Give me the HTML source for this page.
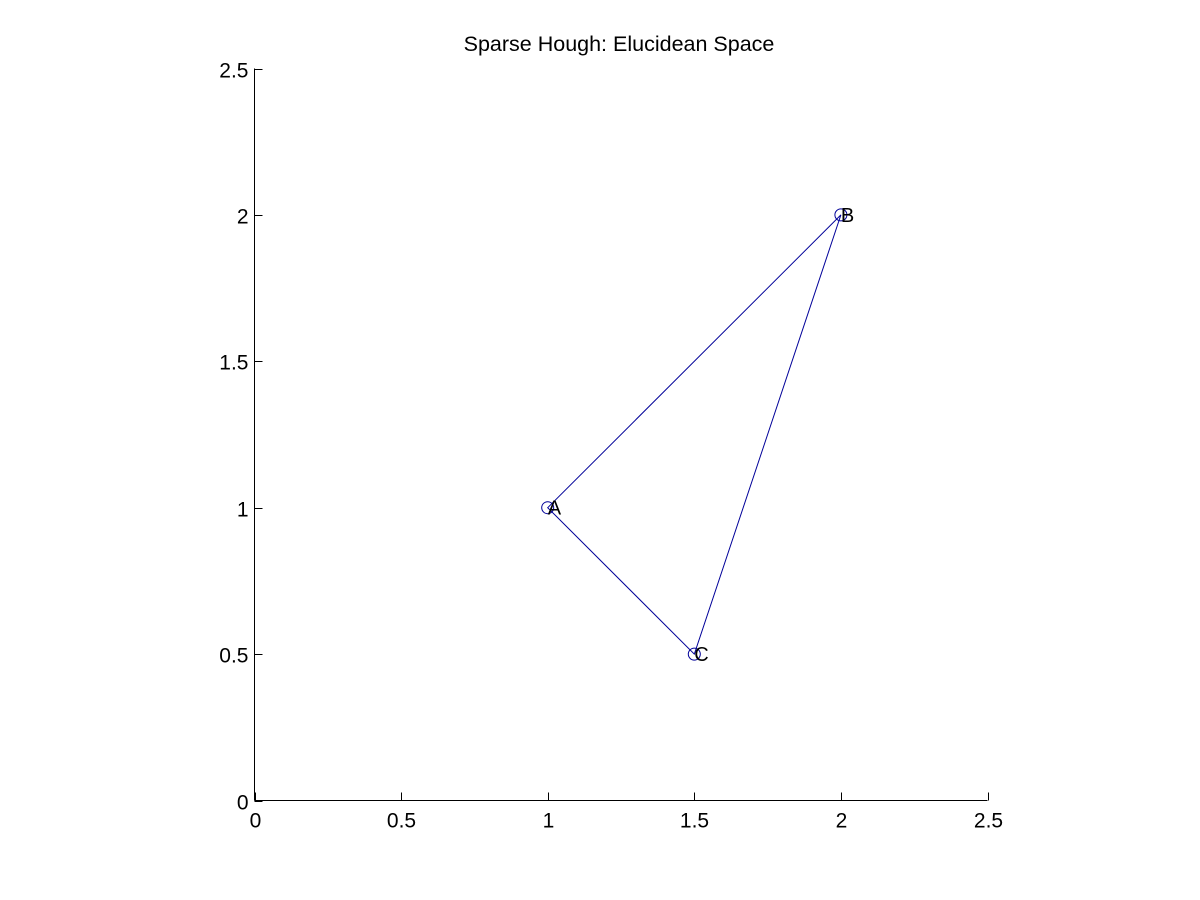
<!DOCTYPE html>
<html><head><meta charset="utf-8"><style>
html,body{margin:0;padding:0;background:#fff;}
svg{display:block;font-family:"Liberation Sans",Arial,sans-serif;}
</style></head><body>
<svg id="chart" width="1200" height="900" viewBox="0 0 1200 900">
<rect width="1200" height="900" fill="#fff"/>
<text x="619" y="51" font-size="21.5" text-anchor="middle" fill="#000">Sparse Hough: Elucidean Space</text>
<g id="axes"></g>
<g id="marks"></g>
</svg>
<script>
const labels = ["A","B","C"];
const xs = [1, 2, 1.5];
const ys = [1, 2, 0.5];
const xTicks = [0, 0.5, 1, 1.5, 2, 2.5];
const yTicks = [0, 0.5, 1, 1.5, 2, 2.5];
const xTickLabels = ["0","0.5","1","1.5","2","2.5"];
const yTickLabels = ["0","0.5","1","1.5","2","2.5"];

const NS = "http://www.w3.org/2000/svg";
const X0 = 254.5, X1 = 987.5, Y0 = 800.5, Y1 = 68.5;
const sx = v => X0 + (v - 0) / 2.5 * (X1 - X0);
const sy = v => Y0 - (v - 0) / 2.5 * (Y0 - Y1);
function mk(tag, attrs, parent) {
  const e = document.createElementNS(NS, tag);
  for (const k in attrs) e.setAttribute(k, attrs[k]);
  parent.appendChild(e);
  return e;
}
const axes = document.getElementById("axes");
const marks = document.getElementById("marks");

const xAxis = mk("line", {x1: X0, y1: Y0, x2: X1, y2: Y0, stroke: "#000", "stroke-width": 1}, axes);


const yAxis = mk("line", {x1: X0, y1: Y0, x2: X0, y2: Y1, stroke: "#000", "stroke-width": 1}, axes);



xTicks.forEach((v, i) => {
  const x = Math.round(sx(v)) + 0.5;
  const t = mk("line", {x1: x, y1: Y0, x2: x, y2: Y0 - 8, stroke: "#000"}, axes);
  
  
  const l = mk("text", {x: x, y: Y0 + 27, "font-size": 21, "text-anchor": "middle", fill: "#000"}, axes);
  l.textContent = xTickLabels[i];
  
  
});
yTicks.forEach((v, i) => {
  const y = Math.round(sy(v)) + 0.5;
  const t = mk("line", {x1: X0, y1: y, x2: X0 + 8, y2: y, stroke: "#000"}, axes);
  
  
  const l = mk("text", {x: X0 - 6, y: y + 8, "font-size": 21, "text-anchor": "end", fill: "#000"}, axes);
  l.textContent = yTickLabels[i];
  
  
});

const pts = xs.map((x, i) => sx(x) + "," + sy(ys[i])).join(" ");
const poly = mk("polygon", {points: pts, fill: "none", stroke: "#000099", "stroke-width": 1}, marks);



labels.forEach((name, i) => {
  const c = mk("circle", {cx: sx(xs[i]), cy: sy(ys[i]), r: 6, fill: "none", stroke: "#000099", "stroke-width": 1}, marks);
  
  
  const t = mk("text", {x: sx(xs[i]), y: sy(ys[i]) + 7, "font-size": 20, fill: "#000"}, marks);
  t.textContent = name;
  
  
});
</script>
</body></html>
